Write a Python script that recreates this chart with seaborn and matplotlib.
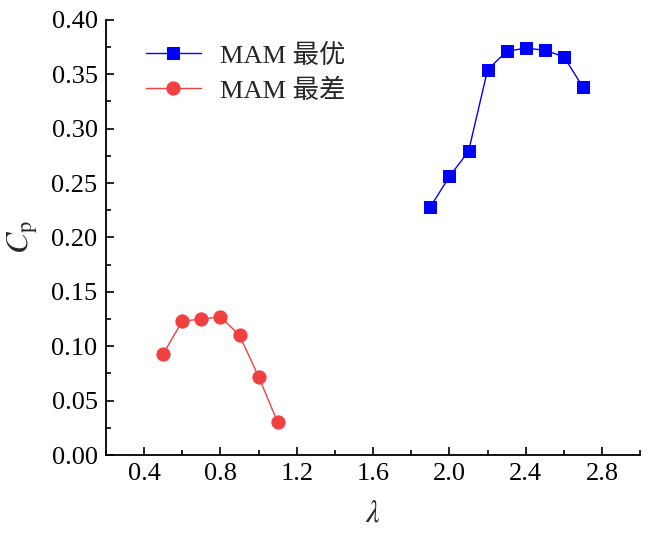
import matplotlib
matplotlib.use("Agg")
import matplotlib.pyplot as plt
import seaborn as sns
import pandas as pd
from matplotlib.ticker import MultipleLocator

best_x = [1.9, 2.0, 2.1, 2.2, 2.3, 2.4, 2.5, 2.6, 2.7]
best_y = [0.228, 0.256, 0.279, 0.354, 0.371, 0.374, 0.372, 0.366, 0.338]
worst_x = [0.5, 0.6, 0.7, 0.8, 0.9, 1.0, 1.1]
worst_y = [0.093, 0.123, 0.125, 0.127, 0.110, 0.072, 0.030]
labels = ["MAM 最优", "MAM 最差"]

sns.set_style("ticks")
plt.rcParams['font.family'] = ['Liberation Serif', 'Noto Sans CJK SC']
plt.rcParams['mathtext.fontset'] = 'stix'

fig = plt.figure(figsize=(6.5, 5.35), dpi=100)
ax = fig.add_axes([0.163, 0.1495, 0.822, 0.8135])

df_best = pd.DataFrame({"x": best_x, "y": best_y})
df_worst = pd.DataFrame({"x": worst_x, "y": worst_y})

sns.lineplot(data=df_best, x="x", y="y", ax=ax, color="#0000FF", marker="s",
             markersize=8.5, markeredgecolor="#0000FF", linewidth=1, label=labels[0])
sns.lineplot(data=df_worst, x="x", y="y", ax=ax, color="#F04040", marker="o",
             markersize=9.5, markeredgecolor="#F04040", linewidth=1, label=labels[1])

ax.set_xlim(0.2, 3.0)
ax.set_ylim(0, 0.40)
ax.xaxis.set_major_locator(MultipleLocator(0.4))
ax.xaxis.set_minor_locator(MultipleLocator(0.2))
ax.yaxis.set_major_locator(MultipleLocator(0.05))
ax.yaxis.set_minor_locator(MultipleLocator(0.025))
ax.xaxis.set_major_formatter(matplotlib.ticker.FormatStrFormatter('%.1f'))
ax.yaxis.set_major_formatter(matplotlib.ticker.FormatStrFormatter('%.2f'))
ax.tick_params(which='major', direction='in', length=6, width=1.2, labelsize=19,
               color='black', labelcolor='black', pad=6)
ax.tick_params(which='minor', direction='in', length=3.5, width=1.2, color='black')
for s in ['top', 'right']:
    ax.spines[s].set_visible(False)
for s in ['left', 'bottom']:
    ax.spines[s].set_linewidth(1.3)
    ax.spines[s].set_color('black')

ax.set_xlabel(r'$\lambda$', fontsize=22, labelpad=10)
ax.set_ylabel(r'$C_{\mathrm{p}}$', fontsize=23, labelpad=8)

ax.legend(loc='upper left', frameon=False, fontsize=19, handlelength=2.1,
          bbox_to_anchor=(0.03, 1.0), labelspacing=0.4, handletextpad=0.7)

fig.savefig("out.png", dpi=100)
